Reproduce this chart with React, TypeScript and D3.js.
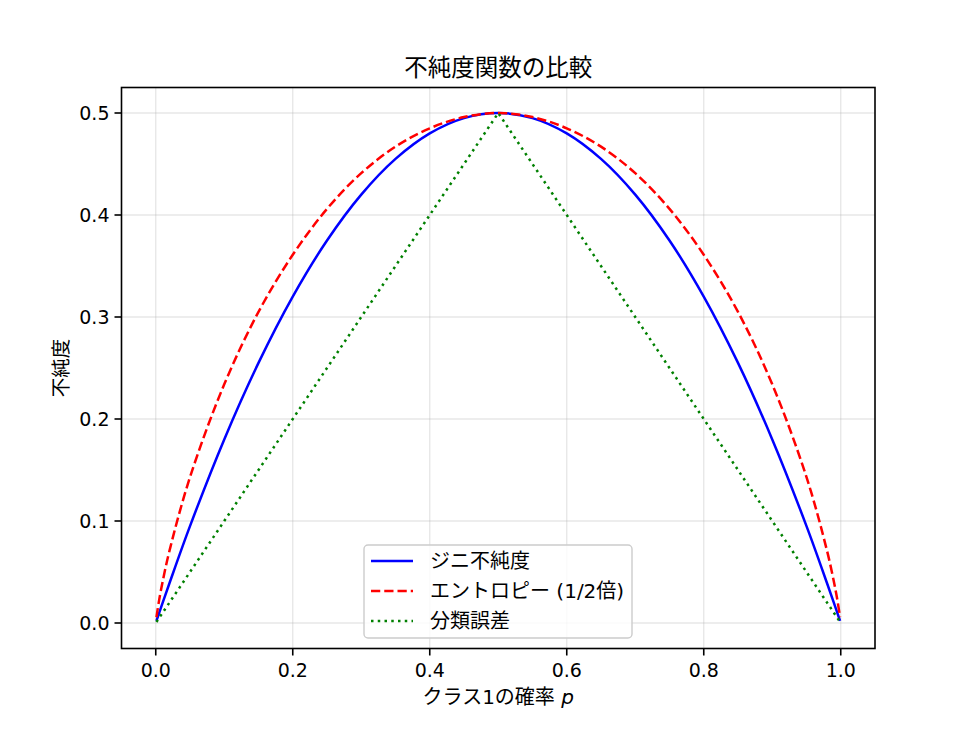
import { useEffect } from 'react';
import * as d3 from 'd3';

// Probability of class 1 (sample points)
const pValues = [0.001, 0.005, 0.01, 0.02, 0.05, 0.1, 0.15, 0.2, 0.25, 0.3, 0.35, 0.4, 0.45, 0.5,
  0.55, 0.6, 0.65, 0.7, 0.75, 0.8, 0.85, 0.9, 0.95, 0.98, 0.99, 0.995, 0.999];

const giniValues = [0.002, 0.01, 0.0198, 0.039, 0.095, 0.18, 0.255, 0.32, 0.375, 0.42, 0.455, 0.48, 0.495, 0.5,
  0.495, 0.48, 0.455, 0.42, 0.375, 0.32, 0.255, 0.18, 0.095, 0.039, 0.0198, 0.01, 0.002];

const entropyHalfValues = [0.0057, 0.0227, 0.0404, 0.0707, 0.143, 0.234, 0.305, 0.361, 0.406, 0.441, 0.467, 0.485, 0.496, 0.5,
  0.496, 0.485, 0.467, 0.441, 0.406, 0.361, 0.305, 0.234, 0.143, 0.0707, 0.0404, 0.0227, 0.0057];

const errorValues = [0.001, 0.005, 0.01, 0.02, 0.05, 0.1, 0.15, 0.2, 0.25, 0.3, 0.35, 0.4, 0.45, 0.5,
  0.45, 0.4, 0.35, 0.3, 0.25, 0.2, 0.15, 0.1, 0.05, 0.02, 0.01, 0.005, 0.001];

const xTicks = [0, 0.2, 0.4, 0.6, 0.8, 1.0];
const yTicks = [0, 0.1, 0.2, 0.3, 0.4, 0.5];

const seriesNames = ['ジニ不純度', 'エントロピー (1/2倍)', '分類誤差'];

const W = 972;
const H = 729;
const M = { left: 121.5, right: 875, top: 87.5, bottom: 648.5 };
const FONT = '"DejaVu Sans", "Noto Sans CJK JP", sans-serif';
const LW = 2.5;

export default function App() {
  useEffect(() => {
    document.body.style.margin = '0';
  }, []);

  const x = d3.scaleLinear().domain([-0.05, 1.05]).range([M.left, M.right]);
  const y = d3.scaleLinear().domain([-0.025, 0.525]).range([M.bottom, M.top]);

  const smooth = d3.line<number>()
    .x((_, i) => x(pValues[i]))
    .y(d => y(d))
    .curve(d3.curveCatmullRom);
  const straight = d3.line<number>()
    .x((_, i) => x(pValues[i]))
    .y(d => y(d));

  const series = [
    { name: seriesNames[0], d: smooth(giniValues), color: '#0000ff', dash: undefined as string | undefined },
    { name: seriesNames[1], d: smooth(entropyHalfValues), color: '#ff0000', dash: `${3.7 * LW},${1.6 * LW}` },
    { name: seriesNames[2], d: straight(errorValues), color: '#008000', dash: `${LW},${1.7 * LW}` },
  ];

  const legend = { x: 364, y: 545, w: 268, h: 93 };

  return (
    <svg width={W} height={H} style={{ display: 'block', background: '#fff' }} fontFamily={FONT}>
      {/* grid */}
      {xTicks.map(t => (
        <line key={`gx${t}`} x1={x(t)} x2={x(t)} y1={M.top} y2={M.bottom} stroke="#b0b0b0" strokeOpacity={0.3} strokeWidth={1.4} />
      ))}
      {yTicks.map(t => (
        <line key={`gy${t}`} x1={M.left} x2={M.right} y1={y(t)} y2={y(t)} stroke="#b0b0b0" strokeOpacity={0.3} strokeWidth={1.4} />
      ))}

      {/* lines */}
      <g>
        {series.map(s => (
          <path key={s.name} d={s.d ?? ''} fill="none" stroke={s.color} strokeWidth={LW}
            strokeDasharray={s.dash} strokeLinejoin="round" />
        ))}
      </g>

      {/* spines */}
      <rect x={M.left} y={M.top} width={M.right - M.left} height={M.bottom - M.top} fill="none" stroke="#000" strokeWidth={1.6} />

      {/* x ticks */}
      {xTicks.map(t => (
        <g key={`xt${t}`}>
          <line x1={x(t)} x2={x(t)} y1={M.bottom} y2={M.bottom + 7} stroke="#000" strokeWidth={1.6} />
          <text x={x(t)} y={M.bottom + 13} dy="0.8em" textAnchor="middle" fontSize={19} fill="#000">{t.toFixed(1)}</text>
        </g>
      ))}
      {/* y ticks */}
      {yTicks.map(t => (
        <g key={`yt${t}`}>
          <line x1={M.left - 7} x2={M.left} y1={y(t)} y2={y(t)} stroke="#000" strokeWidth={1.6} />
          <text x={M.left - 12} y={y(t)} dy="0.36em" textAnchor="end" fontSize={19} fill="#000">{t.toFixed(1)}</text>
        </g>
      ))}

      {/* labels */}
      <text x={(M.left + M.right) / 2} y={697} dy="0.35em" textAnchor="middle" fontSize={20} fill="#000">
        クラス1の確率 <tspan fontStyle="italic">p</tspan>
      </text>
      <text transform={`translate(61.5, ${(M.top + M.bottom) / 2}) rotate(-90)`} dy="0.35em" textAnchor="middle" fontSize={19.5} fill="#000">不純度</text>
      <text x={(M.left + M.right) / 2} y={68} dy="0.35em" textAnchor="middle" fontSize={23.5} fill="#000">不純度関数の比較</text>

      {/* legend */}
      <g>
        <rect x={legend.x} y={legend.y} width={legend.w} height={legend.h} rx={4} fill="#fff" fillOpacity={0.8} stroke="#cccccc" strokeWidth={1.4} />
        {series.map((s, i) => {
          const ly = legend.y + 16 + i * 30;
          return (
            <g key={`lg${s.name}`}>
              <line x1={legend.x + 7} x2={legend.x + 49} y1={ly} y2={ly} stroke={s.color} strokeWidth={LW}
                strokeDasharray={s.dash} />
              <text x={legend.x + 66} y={ly} dy="0.35em" fontSize={20} fill="#000">{s.name}</text>
            </g>
          );
        })}
      </g>
    </svg>
  );
}
